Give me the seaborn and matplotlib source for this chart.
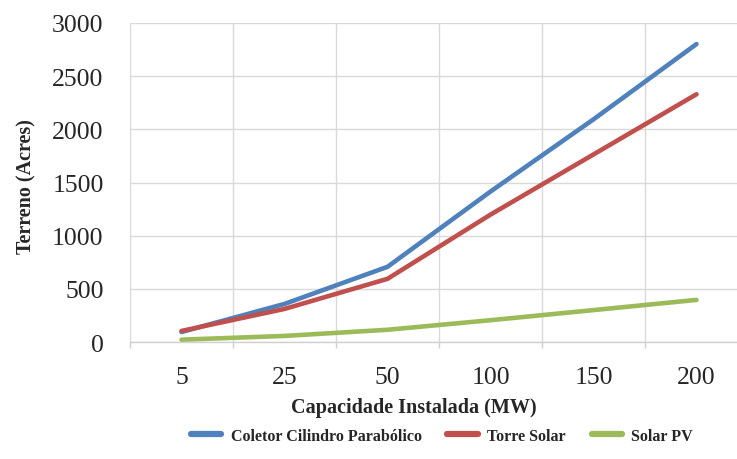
import matplotlib
matplotlib.use("Agg")
import matplotlib.pyplot as plt
from matplotlib.ticker import FixedLocator
import seaborn as sns
import pandas as pd

capacidade = ["5", "25", "50", "100", "150", "200"]
coletor = [94, 358, 707, 1415, 2094, 2802]
torre = [104, 311, 594, 1198, 1764, 2330]
solar_pv = [22, 57, 115, 205, 300, 396]

series_names = ["Coletor Cilindro Parabólico", "Torre Solar", "Solar PV"]
series_values = [coletor, torre, solar_pv]
colors = ["#4F81BD", "#C0504D", "#9BBB59"]

rows = []
for name, vals in zip(series_names, series_values):
    for c, v in zip(capacidade, vals):
        rows.append({"Capacidade": c, "Terreno": v, "Série": name})
df = pd.DataFrame(rows)

sns.set_style("white")
plt.rcParams["font.family"] = ["Liberation Serif", "DejaVu Serif"]

fig = plt.figure(figsize=(7.37, 4.60), dpi=100)
ax = fig.add_axes([130 / 737, 1 - 343 / 460, 618 / 737, 319 / 460])

sns.lineplot(data=df, x="Capacidade", y="Terreno", hue="Série",
             palette=colors, linewidth=3.3, ax=ax, legend=True,
             solid_capstyle="round", solid_joinstyle="round")

ax.set_xlim(-0.5, 5.5)
ax.set_ylim(0, 3000)
ax.set_yticks(range(0, 3001, 500))
ax.xaxis.set_minor_locator(FixedLocator([-0.5, 0.5, 1.5, 2.5, 3.5, 4.5, 5.5]))
ax.grid(False)
ax.yaxis.grid(True, color="#d9d9d9", linewidth=1.0)
ax.xaxis.grid(True, which="minor", color="#d9d9d9", linewidth=1.0)
ax.set_axisbelow(True)

for s in ["top", "right", "left"]:
    ax.spines[s].set_visible(False)
ax.spines["bottom"].set_color("#d0d0d0")
ax.spines["bottom"].set_linewidth(1.0)

ax.tick_params(axis="y", which="major", length=0, pad=19, labelsize=18.5)
ax.tick_params(axis="x", which="major", length=0, pad=17, labelsize=18.5)
ax.tick_params(axis="x", which="minor", length=4.5, width=1.0, color="#d0d0d0",
               bottom=True)

ax.set_ylabel("Terreno (Acres)", fontsize=14.5, fontweight="bold")
ax.yaxis.label.set_va("center")
ax.yaxis.set_label_coords(-0.1667, 0.49)
ax.set_xlabel("Capacidade Instalada (MW)", fontsize=14.5, fontweight="bold")
ax.xaxis.label.set_va("center")
ax.xaxis.set_label_coords(0.4595, -0.204)

handles, labels = ax.get_legend_handles_labels()
ax.get_legend().remove()
leg = fig.legend(handles, labels, loc="center", bbox_to_anchor=(442 / 737, 1 - 437 / 460),
                 ncol=3, frameon=False, handlelength=1.9, columnspacing=1.6,
                 handletextpad=0.6, prop={"size": 11.5, "weight": "bold"})
for line in leg.get_lines():
    line.set_linewidth(4.5)

fig.savefig("out.png", dpi=100)
